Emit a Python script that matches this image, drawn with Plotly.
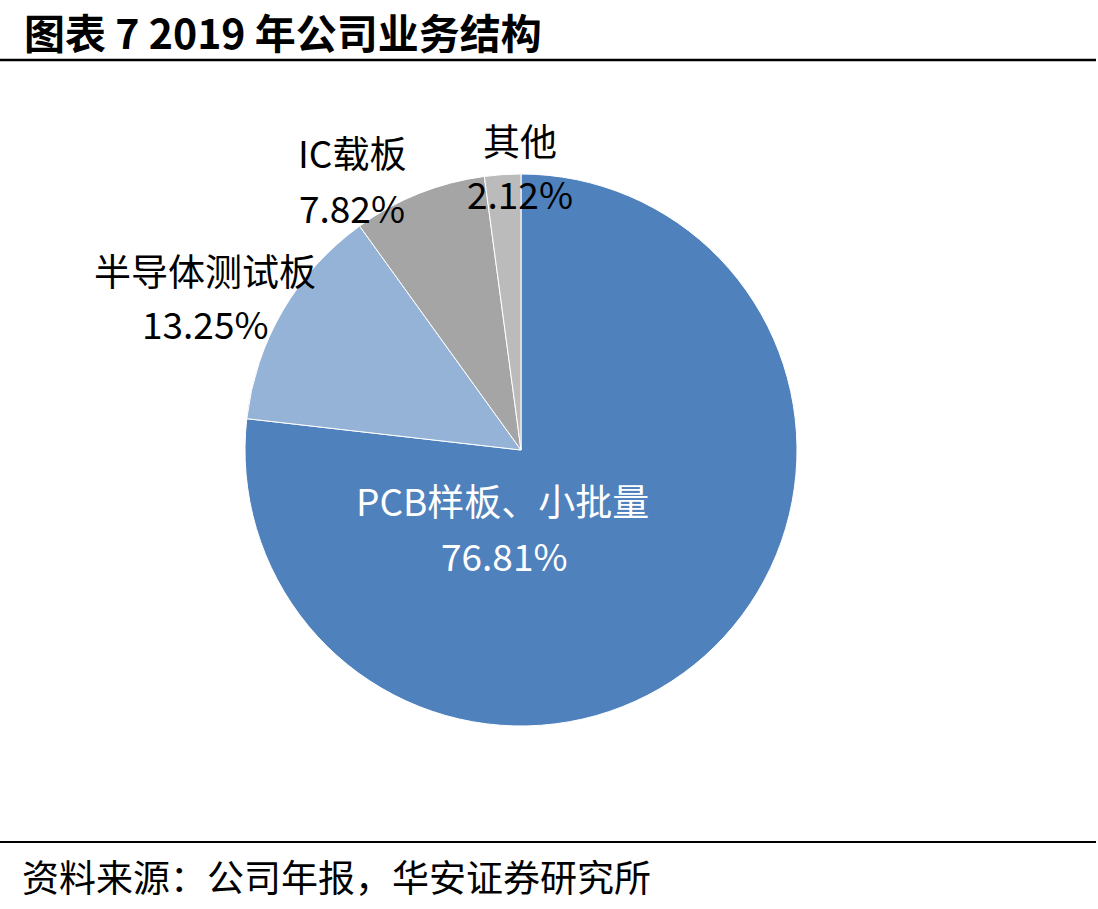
import plotly.graph_objects as go

categories = ["PCB样板、小批量", "半导体测试板", "IC载板", "其他"]
values = [76.81, 13.25, 7.82, 2.12]
colors = ["#4F81BD", "#95B3D7", "#A5A5A5", "#BBBBBB"]
title_text = "图表 7 2019 年公司业务结构"
source_text = "资料来源：公司年报，华安证券研究所"

W, H = 1098, 909
cx, cy, r = 521, 450, 276

FONT = "Noto Sans CJK SC"

fig = go.Figure()
fig.add_trace(go.Pie(
    labels=categories,
    values=values,
    sort=False,
    direction="clockwise",
    rotation=0,
    marker=dict(colors=colors, line=dict(color="white", width=1)),
    textinfo="none",
    hoverinfo="label+percent",
    showlegend=False,
    domain=dict(x=[(cx - r) / W, (cx + r) / W], y=[1 - (cy + r) / H, 1 - (cy - r) / H]),
))

# label placement (pixel centers) for name line and value line
label_pos = {
    "PCB样板、小批量": ((502, 500), (505, 555), "white"),
    "半导体测试板": ((205, 270), (205, 323), "black"),
    "IC载板": ((352, 152), (352, 207), "black"),
    "其他": ((520, 140), (520, 193), "black"),
}

annotations = []
for cat, val in zip(categories, values):
    (x1, y1), (x2, y2), col = label_pos[cat]
    for (x, y), txt in (((x1, y1), cat), ((x2, y2), f"{val:.2f}%")):
        annotations.append(dict(
            x=x / W, y=1 - y / H, xref="paper", yref="paper",
            text=txt, showarrow=False, xanchor="center", yanchor="middle",
            font=dict(family=FONT, size=37, color=col),
        ))

annotations.append(dict(
    x=22 / W, y=1 - 31 / H, xref="paper", yref="paper", text=f"<b>{title_text}</b>",
    showarrow=False, xanchor="left", yanchor="middle",
    font=dict(family=FONT, size=41, color="black"),
))
annotations.append(dict(
    x=20 / W, y=1 - 876 / H, xref="paper", yref="paper", text=source_text,
    showarrow=False, xanchor="left", yanchor="middle",
    font=dict(family=FONT, size=37, color="black"),
))

shapes = [
    dict(type="line", xref="paper", yref="paper", x0=0, x1=1096 / W,
         y0=1 - 60 / H, y1=1 - 60 / H, line=dict(color="black", width=2.5)),
    dict(type="line", xref="paper", yref="paper", x0=0, x1=1096 / W,
         y0=1 - 842 / H, y1=1 - 842 / H, line=dict(color="black", width=2)),
]

fig.update_layout(
    width=W, height=H,
    margin=dict(l=0, r=0, t=0, b=0),
    paper_bgcolor="white", plot_bgcolor="white",
    annotations=annotations, shapes=shapes,
)

fig.write_html("out.html")
